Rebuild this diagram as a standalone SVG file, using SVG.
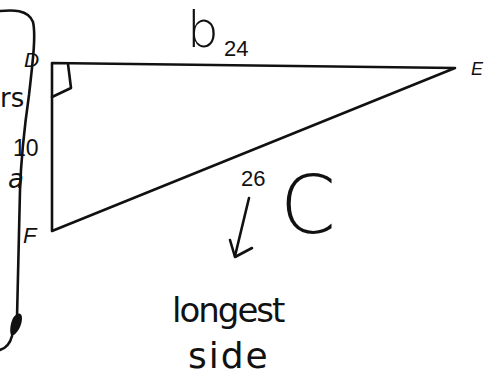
<svg xmlns="http://www.w3.org/2000/svg" width="490" height="379" viewBox="0 0 490 379">
<style>
.ln{fill:none;stroke:#111;stroke-width:2.6;stroke-linecap:round;stroke-linejoin:round}
.hw{fill:none;stroke:#111;stroke-width:2.6;stroke-linecap:round;stroke-linejoin:round}
.lbl{font-family:"Liberation Sans",Arial,sans-serif;fill:#111}
.it{font-style:italic}
.hand{font-family:"DejaVu Sans","Liberation Sans",sans-serif;fill:#111}
.thin{font-weight:200}
</style>
<rect width="490" height="379" fill="#fff"/>
<g id="bracket">
<path class="hw" d="M0,11 C12,10 28,9 33,22 C36,35 33,60 29,95 C24,130 21,160 20,190 C19,230 18,270 17,318"/>
<path d="M13,318 C17,312 22,312 22,318 C22,326 17,334 12,336 C9,334 10,324 13,318 Z" fill="#111"/>
<path class="hw" d="M12,336 C10,344 6,348 0,350"/>
</g>
<g id="triangle">
<path class="ln" d="M52,63 L455,68 L52,231 Z"/>
<path class="ln" stroke-width="2.2" d="M52,97 L71,88 L68,64"/>
</g>
<g id="node-D"><text class="lbl it" x="24" y="67" font-size="21">D</text></g>
<g id="node-E"><text class="lbl it" x="471" y="75" font-size="18">E</text></g>
<g id="node-F"><text class="lbl it" x="23" y="243" font-size="22">F</text></g>
<g id="label-b"><text class="hand thin" x="187" y="47" font-size="50">b</text></g>
<g id="label-24"><text class="lbl" x="224" y="56" font-size="22">24</text></g>
<g id="label-rs"><text class="hand" x="0" y="107" font-size="26">rs</text></g>
<g id="label-10"><text class="lbl" x="13" y="156" font-size="23">10</text></g>
<g id="label-a"><text class="hand it" x="8" y="188" font-size="26">a</text></g>
<g id="label-26"><text class="lbl" x="241" y="186" font-size="22">26</text></g>
<g id="connectors">
<path class="hw" d="M249,198 L235,256"/>
<path class="hw" d="M230,240 L235,257 L252,248"/>
</g>
<g id="label-C"><text class="hand thin" x="280" y="233" font-size="80">C</text></g>
<g id="label-longest"><text class="hand" x="172" y="322" font-size="34" letter-spacing="-2">longest</text></g>
<g id="label-side"><text class="hand" x="188" y="368" font-size="36" letter-spacing="2">side</text></g>
</svg>
